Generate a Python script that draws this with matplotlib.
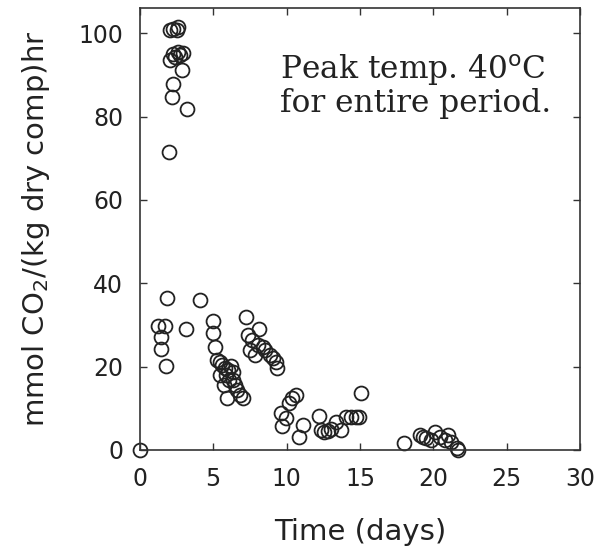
import matplotlib.pyplot as plt

# time (days) and CO2 evolution rate
days = [0.0,
        1.27, 1.71, 1.47, 1.42, 1.76, 1.83, 3.15, 4.11,
        2.05, 2.28, 2.51, 2.62, 2.05, 2.28, 2.40, 2.62, 2.74, 2.97,
        2.86, 2.28, 2.17, 3.20, 1.99,
        5.02, 5.02, 5.14, 5.25, 5.48, 5.62, 5.82, 6.03, 6.23, 5.48,
        5.89, 6.37, 5.75, 6.10, 6.37, 6.50, 6.64, 6.85, 7.05, 5.94,
        7.26, 7.40, 7.67, 8.10, 7.53, 7.88, 8.08, 8.36, 8.56, 8.90,
        9.04, 9.38, 9.25,
        9.59, 9.93, 9.70, 10.16, 10.39, 10.62, 11.12, 10.84, 12.21,
        12.33, 12.53, 12.79, 13.01, 13.36, 13.70, 14.04, 14.38, 14.73,
        14.95, 15.07,
        18.03, 19.06, 19.29, 19.52, 19.86, 20.09, 20.43, 20.77, 21.00,
        21.23, 21.58, 21.69]
rate = [0.0,
        29.7, 29.7, 27.1, 24.2, 20.2, 36.4, 29.0, 36.0,
        100.7, 101.1, 100.7, 101.5, 93.5, 95.1, 94.3, 95.5, 94.7, 95.3,
        91.3, 87.9, 84.7, 81.9, 71.5,
        30.9, 28.0, 24.7, 21.6, 21.1, 20.4, 19.7, 19.2, 20.1, 18.0,
        18.0, 18.7, 15.6, 16.8, 16.8, 15.6, 14.4, 13.2, 12.5, 12.4,
        32.0, 27.6, 26.4, 28.9, 24.0, 22.8, 25.2, 24.7, 24.0, 22.8,
        22.0, 19.7, 21.2,
        8.8, 7.6, 5.8, 11.2, 12.4, 13.2, 6.0, 3.2, 8.2,
        4.8, 4.4, 4.6, 5.0, 6.8, 4.8, 8.0, 8.0, 8.0,
        8.0, 13.7,
        1.6, 3.6, 3.2, 2.8, 2.4, 4.4, 3.2, 2.4, 3.6,
        2.0, 0.4, 0.0]

x_ticks = [0, 5, 10, 15, 20, 25, 30]
y_ticks = [0, 20, 40, 60, 80, 100]

fig = plt.figure(figsize=(6, 5.52), dpi=100)
ax = fig.add_axes([0.233, 0.185, 0.734, 0.8])

ax.plot(days, rate, linestyle='none', marker='o', markersize=10,
        markerfacecolor='none', markeredgecolor='#222222',
        markeredgewidth=1.3, clip_on=False)

ax.set_xlim(0, 30)
ax.set_ylim(0, 106)
ax.set_xticks(x_ticks)
ax.set_yticks(y_ticks)
ax.tick_params(direction='in', top=True, right=True, length=5, width=1,
               labelsize=17, pad=12, colors='#333333', labelcolor='#222222')
for s in ax.spines.values():
    s.set_linewidth(1.2)
    s.set_color('#333333')

ax.set_xlabel('Time (days)', fontsize=21, labelpad=20, color='#222222')
ax.set_ylabel('mmol CO$_2$/(kg dry comp)hr', fontsize=21, labelpad=19,
              color='#222222')

# annotation, one line per text
ax.text(0.318, 0.842, 'Peak temp. 40$^{\\mathrm{o}}$C',
        transform=ax.transAxes, fontsize=22.5, family='DejaVu Serif',
        va='baseline', ha='left', color='#222222')
ax.text(0.318, 0.765, 'for entire period.',
        transform=ax.transAxes, fontsize=22.5, family='DejaVu Serif',
        va='baseline', ha='left', color='#222222')

plt.savefig('out.png', dpi=100)
